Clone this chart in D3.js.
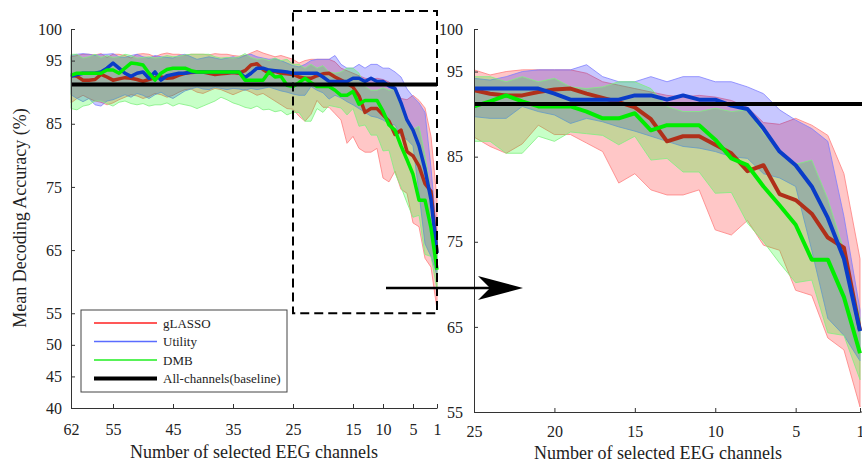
<!DOCTYPE html>
<meta charset="utf-8">
<style>
body { margin: 0; background: #fff; }
svg text { font-family: "Liberation Serif", "Times New Roman", serif; fill: #222; }
.axis path, .axis line { stroke: #333; }
.axis text { font-size: 16px; font-family: "Liberation Serif", serif; fill: #222; }
</style>
<body>
<script src="https://d3js.org/d3.v7.min.js"></script>
<script>
// number of selected channels, 62 down to 1
var channels = d3.range(62, 0, -1);

// gLASSO mean and band
var glassoMean = [92.7,92.5,91.9,91.9,92.0,92.8,92.4,91.9,92.1,92.3,92.2,92.0,91.7,92.0,92.3,92.4,92.2,92.3,92.7,93.0,93.1,93.2,93.2,93.0,92.8,92.9,93.0,93.1,93.0,93.4,94.3,94.5,93.6,93.0,93.3,93.0,92.9,
  92.8,92.4,92.2,92.2,92.6,92.9,93.0,92.4,91.9,91.4,90.8,89.4,86.8,87.4,87.4,86.4,85.4,83.3,84.0,80.6,79.9,78.3,75.5,74.3,64.6];
var glassoHi = [95.6,95.8,96.0,96.0,95.9,96.1,95.5,96.0,96.0,95.8,95.4,96.0,96.1,96.0,95.6,96.0,96.2,96.0,96.0,95.8,96.0,96.0,96.0,95.9,96.1,96.0,96.0,95.8,95.7,95.8,96.2,96.6,96.2,95.9,95.6,95.8,95.5,
  95.2,94.6,95.0,95.2,95.2,95.2,95.2,94.8,93.8,93.4,93.0,92.6,92.2,92.0,92.2,92.0,91.6,90.8,89.0,88.8,89.5,88.7,87.5,83.0,73.0];
var glassoLo = [88.3,89.0,89.5,89.0,88.6,88.4,88.0,88.3,88.8,89.2,89.6,89.4,89.0,89.3,89.8,89.6,89.2,89.5,90.0,90.4,90.5,90.0,89.8,90.2,90.6,90.4,90.0,89.6,90.0,90.4,90.0,89.5,89.8,89.2,88.6,88.0,87.4,
  87.3,86.2,85.4,86.5,88.7,87.6,87.6,86.6,85.6,81.9,83.0,81.1,80.5,80.5,81.1,76.4,75.8,77.5,74.6,74.0,69.3,68.7,63.7,62.3,55.6];

// Utility mean and band
var utilityMean = [92.5,92.8,93.0,93.0,93.0,93.2,93.8,94.6,93.8,93.0,92.5,93.0,93.2,92.2,93.2,91.9,92.6,92.8,93.0,93.0,93.2,93.2,93.2,93.2,93.2,93.2,93.2,93.2,93.2,92.3,93.0,93.8,93.8,93.5,93.4,93.3,93.2,
  93.0,93.0,93.0,93.0,93.0,92.4,91.7,91.7,91.7,91.7,92.2,92.2,91.7,92.2,91.7,91.7,91.0,90.6,88.3,85.6,84.0,81.5,77.8,73.0,64.5];
var utilityHi = [95.8,96.0,96.1,96.0,95.8,96.0,96.0,96.1,95.6,95.5,95.8,96.0,95.6,95.4,95.8,95.6,95.5,95.4,95.8,96.0,95.6,95.2,95.4,95.6,95.4,95.2,95.4,95.6,95.4,95.8,96.0,95.6,95.4,95.2,95.3,95.0,94.6,
  94.2,94.0,94.4,95.0,95.2,95.2,95.2,95.8,94.4,93.8,93.8,94.4,93.8,94.4,94.4,93.8,93.8,93.2,92.4,90.5,89.3,88.3,86.8,78.0,67.0];
var utilityLo = [89.6,89.0,88.5,89.0,88.0,87.8,88.6,88.8,89.2,89.6,89.2,89.8,89.5,89.0,89.6,90.0,89.4,89.0,89.6,90.2,90.5,90.8,90.5,90.4,90.8,90.6,90.4,90.6,90.5,90.3,90.6,90.4,90.6,90.8,90.5,90.2,90.0,
  89.7,89.5,89.5,90.9,90.3,89.9,88.9,89.5,89.1,88.5,88.0,87.4,86.8,86.2,86.0,85.6,85.0,84.8,83.0,82.5,81.5,74.0,66.0,64.0,61.0];

// DMB mean and band
var dmbMean = [92.7,93.0,93.0,93.0,93.0,93.0,93.5,93.5,93.0,93.8,94.6,94.5,94.3,93.0,91.9,93.0,93.6,93.8,93.8,93.8,93.4,93.2,93.2,93.2,93.2,93.2,93.2,93.2,93.2,91.9,91.9,91.9,91.9,93.2,92.4,92.5,91.1,
  90.9,91.5,92.2,91.5,90.9,90.9,90.9,90.3,89.5,89.5,90.1,88.1,88.7,88.7,88.7,87.0,84.8,84.0,81.5,79.3,77.0,72.9,72.9,68.5,61.9];
var dmbHi = [96.0,96.0,95.4,95.6,96.0,95.5,95.8,95.5,95.6,96.0,95.8,95.4,95.5,95.6,95.4,95.5,95.8,95.6,95.7,95.9,96.0,96.0,96.0,96.0,95.6,95.4,95.5,95.4,95.6,96.1,95.5,95.2,95.3,95.0,95.4,95.0,95.2,
  94.4,94.4,93.8,94.4,93.8,94.2,93.2,93.0,93.2,93.8,93.8,93.0,90.9,90.3,90.3,90.7,90.3,90.5,87.7,85.8,84.1,84.6,80.0,74.0,66.0];
var dmbLo = [87.4,87.2,87.8,88.0,88.6,88.6,88.2,87.8,88.4,88.6,88.2,88.0,88.2,87.8,88.0,88.0,88.3,87.8,88.2,88.0,87.8,87.4,87.8,88.2,88.6,89.2,88.8,88.3,88.0,87.6,87.4,87.8,87.2,87.3,86.9,87.1,86.4,
  86.8,86.8,85.4,85.4,87.4,86.8,87.9,87.7,87.5,86.4,87.4,84.6,84.8,83.2,83.2,80.7,80.8,77.2,75.0,72.5,70.2,70.5,64.3,64.0,58.8];

var baseline = 91.2;

var leftTicksX = [62, 55, 45, 35, 25, 15, 10, 5, 1];
var leftTicksY = [40, 45, 50, 55, 65, 75, 85, 95, 100];
var rightTicksX = [25, 20, 15, 10, 5, 1];
var rightTicksY = [55, 65, 75, 85, 95, 100];

var methods = [
  {name: "gLASSO", mean: glassoMean, lo: glassoLo, hi: glassoHi, fill: "#ff0000", edge: "#ff8080", line: "#b0301a", key: "#ff2020"},
  {name: "Utility", mean: utilityMean, lo: utilityLo, hi: utilityHi, fill: "#0000ff", edge: "#8080ff", line: "#0a3cc8", key: "#5a6cff"},
  {name: "DMB", mean: dmbMean, lo: dmbLo, hi: dmbHi, fill: "#00ff00", edge: "#80f080", line: "#00ee00", key: "#20ee20"}
];

var svg = d3.select("body").append("svg")
    .attr("width", 862)
    .attr("height", 464);

var xL = d3.scaleLinear().domain([62, 1]).range([71, 437]);
var yL = d3.scaleLinear().domain([40, 100]).range([408, 29]);
var xR = d3.scaleLinear().domain([25, 1]).range([474, 860]);
var yR = d3.scaleLinear().domain([55, 100]).range([412, 29]);

svg.append("clipPath").attr("id", "clipR")
  .append("rect").attr("x", 474).attr("y", 29).attr("width", 388).attr("height", 383);

function drawPanel(g, x, y, nMin, lw) {
  var idx = channels.map(function(c, i) { return i; })
      .filter(function(i) { return channels[i] <= nMin; });

  methods.forEach(function(m) {
    var area = d3.area()
        .x(function(i) { return x(channels[i]); })
        .y0(function(i) { return y(m.lo[i]); })
        .y1(function(i) { return y(m.hi[i]); });
    g.append("path")
        .datum(idx)
        .attr("d", area)
        .style("fill", m.fill)
        .style("fill-opacity", 0.22)
        .style("stroke", m.edge)
        .style("stroke-width", 1)
        .style("stroke-opacity", 0.8);
  });

  methods.forEach(function(m) {
    var line = d3.line()
        .x(function(i) { return x(channels[i]); })
        .y(function(i) { return y(m.mean[i]); });
    g.append("path")
        .datum(idx)
        .attr("d", line)
        .style("fill", "none")
        .style("stroke", m.line)
        .style("stroke-width", lw)
        .style("stroke-linejoin", "round");
  });
}

// left panel
var gL = svg.append("g");
drawPanel(gL, xL, yL, 62, 3.5);
gL.append("line")
    .attr("x1", xL(62)).attr("x2", xL(1))
    .attr("y1", yL(baseline)).attr("y2", yL(baseline))
    .style("stroke", "#000").style("stroke-width", 4);

// right panel (zoom on 25..1)
var gR = svg.append("g").attr("clip-path", "url(#clipR)");
drawPanel(gR, xR, yR, 25, 4);
gR.append("line")
    .attr("x1", xR(25)).attr("x2", 862)
    .attr("y1", yR(baseline)).attr("y2", yR(baseline))
    .style("stroke", "#000").style("stroke-width", 4);

// axes, MATLAB style ticks pointing inward
svg.append("g").attr("class", "axis")
    .attr("transform", "translate(0," + yL.range()[0] + ")")
    .call(d3.axisBottom(xL).tickValues(leftTicksX).tickSizeInner(-4).tickSizeOuter(0).tickPadding(16));
svg.append("g").attr("class", "axis")
    .attr("transform", "translate(" + xL.range()[0] + ",0)")
    .call(d3.axisLeft(yL).tickValues(leftTicksY).tickSizeInner(-4).tickSizeOuter(0).tickPadding(9));

svg.append("g").attr("class", "axis")
    .attr("transform", "translate(0," + yR.range()[0] + ")")
    .call(d3.axisBottom(xR).tickValues(rightTicksX).tickSizeInner(-4).tickSizeOuter(0).tickPadding(14));
svg.append("g").attr("class", "axis")
    .attr("transform", "translate(" + xR.range()[0] + ",0)")
    .call(d3.axisLeft(yR).tickValues(rightTicksY).tickSizeInner(-4).tickSizeOuter(0).tickPadding(11));
svg.append("line")
    .attr("x1", 860).attr("x2", 862)
    .attr("y1", yR.range()[0]).attr("y2", yR.range()[0])
    .style("stroke", "#333");

// axis titles
svg.append("text")
    .attr("x", 254).attr("y", 458)
    .attr("text-anchor", "middle")
    .style("font-size", "18px")
    .text("Number of selected EEG channels");
svg.append("text")
    .attr("x", 658).attr("y", 459)
    .attr("text-anchor", "middle")
    .style("font-size", "18px")
    .text("Number of selected EEG channels");
svg.append("text")
    .attr("transform", "translate(26,218) rotate(-90)")
    .attr("text-anchor", "middle")
    .style("font-size", "18px")
    .text("Mean Decoding Accuracy (%)");

// dashed zoom box
svg.append("rect")
    .attr("x", xL(25)).attr("y", 11)
    .attr("width", xL(1) - xL(25)).attr("height", yL(55) - 11)
    .style("fill", "none")
    .style("stroke", "#000")
    .style("stroke-width", 2)
    .style("stroke-dasharray", "9,5");

// arrow to the zoomed panel
svg.append("line")
    .attr("x1", 386).attr("x2", 495)
    .attr("y1", 288).attr("y2", 288)
    .style("stroke", "#000").style("stroke-width", 2.5);
svg.append("path")
    .attr("d", "M523,288L478,276L490,288L478,300Z")
    .style("fill", "#000");

// legend
var legend = svg.append("g").attr("transform", "translate(81,310)");
legend.append("rect")
    .attr("width", 206).attr("height", 82)
    .style("fill", "#fff")
    .style("stroke", "#444")
    .style("stroke-width", 1);
var keys = methods.map(function(m) { return {name: m.name, color: m.key, w: 1.5}; })
  .concat([{name: "All-channels(baseline)", color: "#000", w: 4}]);
keys.forEach(function(k, i) {
  var yy = 13 + i * 18.5;
  legend.append("line")
      .attr("x1", 13).attr("x2", 76)
      .attr("y1", yy).attr("y2", yy)
      .style("stroke", k.color).style("stroke-width", k.w);
  legend.append("text")
      .attr("x", 82).attr("y", yy)
      .attr("dy", "0.35em")
      .style("font-size", "13px")
      .text(k.name);
});
</script>
</body>
